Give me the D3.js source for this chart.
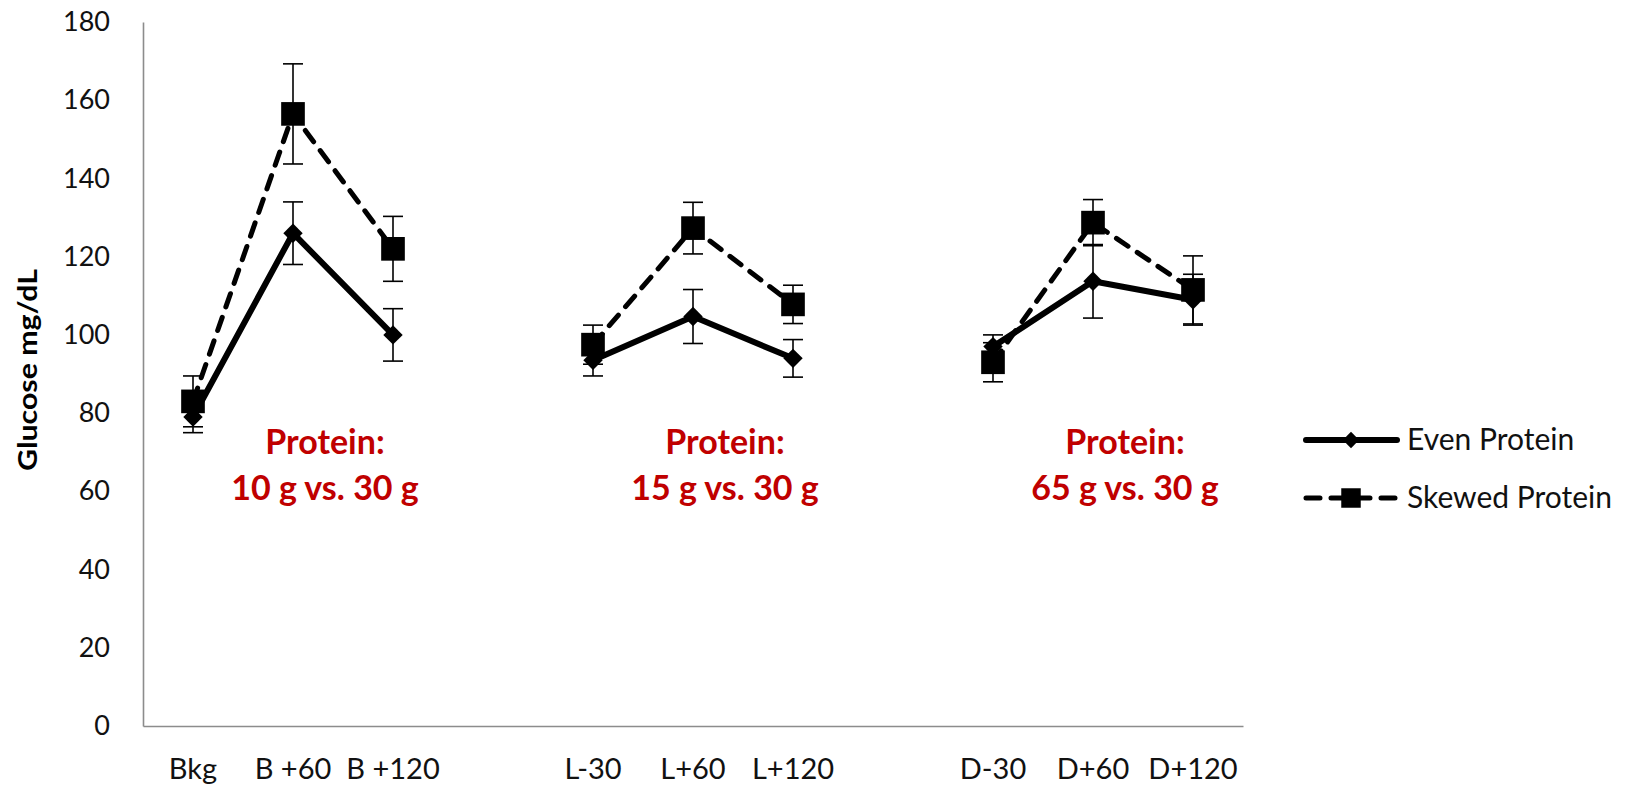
<!DOCTYPE html>
<html>
<head>
<meta charset="utf-8">
<script src="https://cdn.jsdelivr.net/npm/d3@7/dist/d3.min.js"></script>
<style>
  html, body { margin: 0; padding: 0; background: #fff; }
  svg { display: block; }
</style>
</head>
<body>
<svg id="chart" width="1640" height="788"></svg>
<script>
// Time points along the x axis; empty slots separate the three meals
const slots = ["Bkg", "B +60", "B +120", "", "L-30", "L+60", "L+120", "", "D-30", "D+60", "D+120"];

// Mean glucose (mg/dL) and error-bar half widths, null in the empty slots
const evenMean   = [79, 126, 100, null, 93.5, 104.7, 94, null, 97, 113.7, 109];
const evenErr    = [4, 8, 6.7, null, 4, 6.9, 4.8, null, 3, 9.4, 6.5];
const skewedMean = [83, 156.5, 122, null, 97.5, 127.3, 107.8, null, 93, 128.7, 111.5];
const skewedErr  = [6.5, 12.8, 8.3, null, 5, 6.6, 4.9, null, 5, 5.9, 8.7];

const yTicks = [0, 20, 40, 60, 80, 100, 120, 140, 160, 180];

// Meal annotations: slot they are centred on, and their two lines
const noteSlots = [1, 5, 9];
const noteLines = [
  ["Protein:", "10 g vs. 30 g"],
  ["Protein:", "15 g vs. 30 g"],
  ["Protein:", "65 g vs. 30 g"]
];

const seriesNames = ["Even Protein", "Skewed Protein"];

const FONT = "Lato, 'Open Sans', sans-serif";
const RED = "#C00000";
const AXIS = "#8c8c8c";

const svg = d3.select("#chart");
const plot = { left: 143, right: 1243, top: 22, bottom: 726 };

const x = d3.scaleBand()
  .domain(d3.range(slots.length))
  .range([plot.left, plot.right])
  .paddingInner(0).paddingOuter(0);
const cx = i => x(i) + x.bandwidth() / 2;

const y = d3.scaleLinear().domain([0, 180]).range([plot.bottom, plot.top]);

// Y axis
const yAxis = svg.append("g")
  .attr("transform", `translate(${plot.left},0)`)
  .call(d3.axisLeft(y).tickValues(yTicks).tickSize(0).tickPadding(33));
yAxis.select(".domain").attr("stroke", AXIS).attr("stroke-width", 1.6);
yAxis.selectAll("text")
  .attr("font-family", FONT).attr("font-size", 27).attr("fill", "#111");

// X axis
const xAxis = svg.append("g")
  .attr("transform", `translate(0,${plot.bottom})`)
  .call(d3.axisBottom(x).tickFormat(i => slots[i]).tickSize(0).tickPadding(32));
xAxis.select(".domain").attr("stroke", AXIS).attr("stroke-width", 1.6);
xAxis.selectAll("text")
  .attr("font-family", FONT).attr("font-size", 29).attr("fill", "#111");

// Y axis title
svg.append("text")
  .attr("transform", `translate(37,370) rotate(-90)`)
  .attr("text-anchor", "middle")
  .attr("font-family", FONT).attr("font-weight", "bold").attr("font-size", 27)
  .attr("textLength", 202).attr("lengthAdjust", "spacingAndGlyphs")
  .attr("fill", "#000")
  .text("Glucose mg/dL");

// Meal annotations
noteSlots.forEach((s, k) => {
  const t = svg.append("text")
    .attr("text-anchor", "middle")
    .attr("font-family", FONT).attr("font-weight", "bold").attr("font-size", 34)
    .attr("fill", RED);
  t.append("tspan").attr("x", cx(s) + 32).attr("y", 454).text(noteLines[k][0]);
  t.append("tspan").attr("x", cx(s) + 32).attr("y", 500).text(noteLines[k][1]);
});

const line = d3.line()
  .defined(d => d.v != null)
  .x(d => cx(d.i))
  .y(d => y(d.v));

function pts(mean, err) {
  return mean.map((v, i) => ({ i, v, e: err[i] }));
}

function drawSeries(data, opts) {
  const g = svg.append("g");
  g.append("path")
    .attr("d", line(data))
    .attr("fill", "none")
    .attr("stroke", "#000")
    .attr("stroke-width", opts.width)
    .attr("stroke-linejoin", "round")
    .attr("stroke-linecap", opts.dash ? "round" : "butt")
    .attr("stroke-dasharray", opts.dash || null);

  const valid = data.filter(d => d.v != null);
  const eb = g.append("g").attr("stroke", "#000").attr("stroke-width", 1.6);
  valid.forEach(d => {
    const X = cx(d.i), y1 = y(d.v + d.e), y0 = y(d.v - d.e);
    eb.append("line").attr("x1", X).attr("x2", X).attr("y1", y1).attr("y2", y0);
    eb.append("line").attr("x1", X - 10).attr("x2", X + 10).attr("y1", y1).attr("y2", y1);
    eb.append("line").attr("x1", X - 10).attr("x2", X + 10).attr("y1", y0).attr("y2", y0);
  });

  g.selectAll("path.mk")
    .data(valid)
    .join("path")
    .attr("class", "mk")
    .attr("transform", d => `translate(${cx(d.i)},${y(d.v)})`)
    .attr("d", opts.symbol)
    .attr("fill", "#000");
}

const diamond = d3.symbol().type(d3.symbolDiamond2).size(240)();
const square = d3.symbol().type(d3.symbolSquare).size(560)();

drawSeries(pts(evenMean, evenErr), { width: 6, symbol: diamond });
drawSeries(pts(skewedMean, skewedErr), { width: 5, dash: "14 11", symbol: square });

// Legend
const legend = svg.append("g");
const legendRows = [
  { name: seriesNames[0], y: 440, width: 6, dash: null, symbol: d3.symbol().type(d3.symbolDiamond2).size(170)() },
  { name: seriesNames[1], y: 498, width: 5, dash: "14 11", symbol: d3.symbol().type(d3.symbolSquare).size(380)() }
];
legendRows.forEach(r => {
  legend.append("line")
    .attr("x1", 1306).attr("x2", 1397).attr("y1", r.y).attr("y2", r.y)
    .attr("stroke", "#000").attr("stroke-width", r.width)
    .attr("stroke-linecap", "round")
    .attr("stroke-dasharray", r.dash);
  legend.append("path")
    .attr("transform", `translate(1351,${r.y})`)
    .attr("d", r.symbol).attr("fill", "#000");
  legend.append("text")
    .attr("x", 1407).attr("y", r.y + 10)
    .attr("font-family", FONT).attr("font-size", 30).attr("fill", "#111")
    .text(r.name);
});
</script>
</body>
</html>
